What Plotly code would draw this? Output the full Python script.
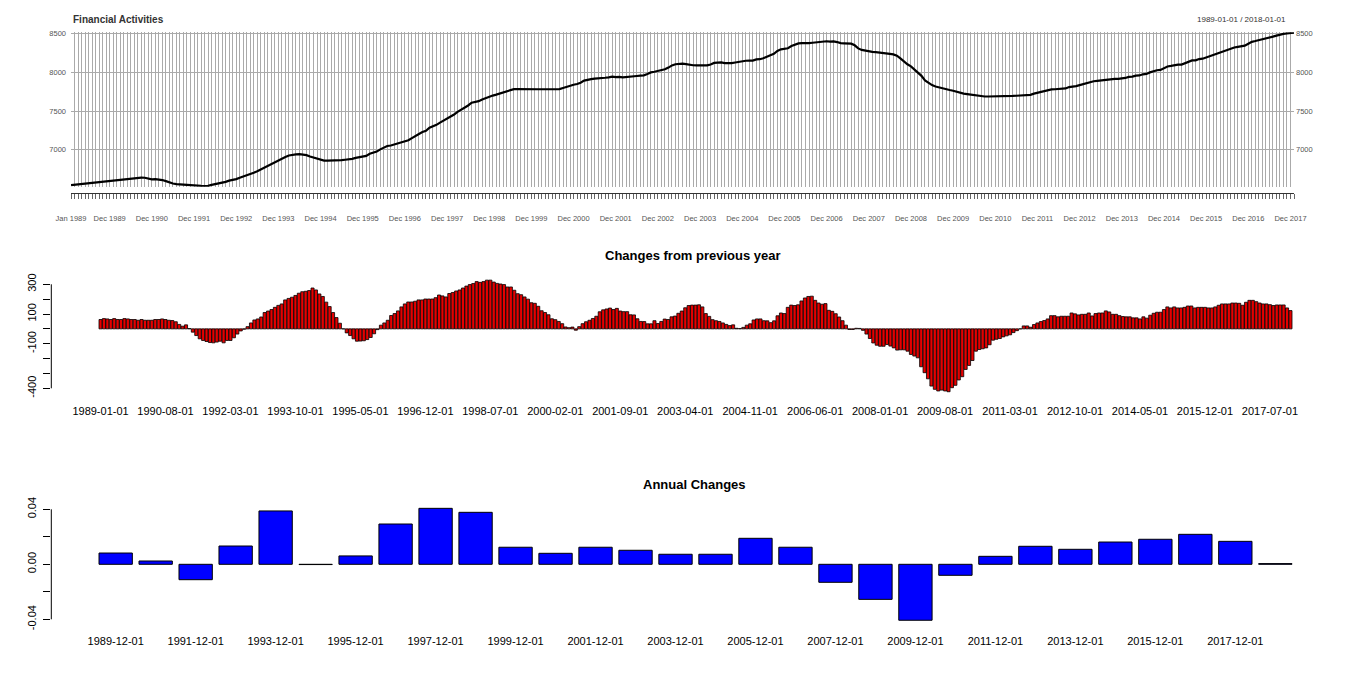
import pandas as pd
import plotly.graph_objects as go

# ---------------- data ----------------
months = [d.strftime("%Y-%m-%d") for d in pd.date_range("1989-01-01", "2018-01-01", freq="MS")]

levels = [
    6543, 6548, 6553, 6558, 6563, 6567, 6572, 6578, 6583, 6587, 6591, 6595,
    6605, 6610, 6614, 6618, 6622, 6627, 6632, 6637, 6640, 6638, 6630, 6618,
    6620, 6615, 6608, 6594, 6576, 6563, 6556, 6552, 6549, 6546, 6543, 6540,
    6527, 6532, 6530, 6532, 6545, 6555, 6560, 6568, 6585, 6600, 6608, 6620,
    6638, 6652, 6665, 6683, 6703, 6722, 6745, 6770, 6795, 6822, 6845, 6865,
    6885, 6905, 6925, 6935, 6940, 6942, 6938, 6930, 6912, 6898, 6880, 6868,
    6860, 6860, 6860, 6857, 6860, 6865, 6870, 6875, 6882, 6895, 6905, 6910,
    6920, 6948, 6962, 6976, 7005, 7030, 7048, 7055, 7068, 7088, 7100, 7112,
    7122, 7150, 7172, 7203, 7228, 7245, 7285, 7300, 7322, 7350, 7375, 7398,
    7420, 7455, 7490, 7515, 7545, 7572, 7608, 7615, 7628, 7650, 7670, 7680,
    7700, 7712, 7725, 7742, 7757, 7770, 7784, 7785, 7783, 7782, 7784, 7785,
    7782, 7782, 7782, 7783, 7783, 7783, 7784, 7784, 7798, 7815, 7828, 7840,
    7850, 7866, 7893, 7905, 7912, 7918, 7920, 7928, 7930, 7936, 7944, 7938,
    7942, 7936, 7942, 7950, 7948, 7953, 7958, 7962, 7980, 8000, 8008, 8020,
    8028, 8040, 8062, 8090, 8105, 8112, 8112, 8107, 8097, 8092, 8090, 8088,
    8083, 8090, 8102, 8122, 8125, 8128, 8120, 8117, 8120, 8128, 8138, 8148,
    8150, 8152, 8152, 8168, 8170, 8182, 8205, 8222, 8240, 8278, 8298, 8305,
    8312, 8340, 8362, 8375, 8378, 8375, 8378, 8383, 8390, 8395, 8398, 8402,
    8398, 8400, 8392, 8378, 8375, 8373, 8371, 8350, 8310, 8290, 8280, 8272,
    8265, 8262, 8258, 8254, 8248, 8240, 8232, 8215, 8180, 8140, 8105, 8078,
    8040, 8000, 7955, 7895, 7860, 7835, 7818, 7805, 7790, 7780, 7772, 7762,
    7748, 7735, 7725, 7718, 7712, 7700, 7695, 7690, 7688, 7688, 7688, 7688,
    7690, 7690, 7690, 7692, 7695, 7698, 7700, 7700, 7700, 7710, 7725, 7738,
    7748, 7760, 7775, 7780, 7782, 7785, 7788, 7792, 7810, 7815, 7822, 7835,
    7848, 7865, 7870, 7885, 7890, 7895, 7905, 7908, 7910, 7915, 7915, 7920,
    7928, 7942, 7945, 7958, 7960, 7975, 7980, 8000, 8015, 8027, 8032, 8050,
    8076, 8083, 8093, 8099, 8101, 8120, 8134, 8154, 8156, 8172, 8177, 8195,
    8215, 8224, 8240, 8258, 8270, 8288, 8302, 8322, 8330, 8340, 8345, 8370,
    8395, 8405, 8415, 8425, 8435, 8452, 8462, 8475, 8488, 8498, 8504, 8508,
    8512,
]

yoy_changes = [
    63, 69, 67, 63, 69, 63, 63, 69, 67, 63, 63, 58,
    63, 58, 58, 58, 63, 63, 67, 63, 58, 56, 48, 30,
    18, 27, 2, -22, -45, -67, -78, -85, -92, -94, -89, -83,
    -94, -78, -78, -60, -35, -14, -2, 15, 40, 60, 67, 80,
    110, 120, 130, 145, 158, 168, 195, 205, 213, 225, 240, 250,
    253, 258, 275, 262, 235, 218, 180, 150, 110, 76, 38, 0,
    -27, -45, -67, -83, -82, -80, -72, -58, -33, -5, 25, 40,
    58, 90, 103, 121, 148, 168, 181, 181, 186, 195, 195, 201,
    201, 201, 210, 228, 222, 215, 238, 245, 255, 262, 275, 288,
    298, 305, 318, 313, 318, 328, 328, 315, 306, 302, 298, 282,
    282, 260, 237, 230, 215, 200, 176, 172, 152, 122, 110, 95,
    68, 62, 50, 35, 13, 8, 12, -9, 15, 35, 48, 58,
    70, 85, 115, 128, 134, 140, 130, 138, 120, 116, 116, 95,
    94, 68, 50, 49, 34, 34, 55, 36, 50, 66, 63, 81,
    86, 105, 120, 142, 157, 160, 160, 162, 148, 103, 84, 62,
    55, 50, 40, 30, 22, 27, 4, 2, 10, 25, 34, 60,
    67, 67, 55, 54, 42, 54, 88, 107, 103, 145, 160, 157,
    162, 188, 208, 218, 220, 192, 174, 166, 170, 125, 118, 102,
    80, 55, 25, -4, -4, 4, 3, -10, -35, -65, -95, -110,
    -117, -117, -105, -116, -128, -143, -141, -141, -150, -172, -183, -195,
    -255, -295, -336, -385, -407, -418, -412, -418, -423, -396, -380, -344,
    -322, -273, -246, -213, -150, -139, -134, -128, -107, -76, -70, -65,
    -54, -47, -40, -25, -12, 0, 20, 20, 11, 29, 40, 49,
    56, 67, 89, 89, 81, 85, 85, 85, 107, 101, 94, 98,
    98, 107, 87, 103, 107, 107, 121, 114, 98, 98, 89, 83,
    81, 81, 74, 74, 67, 81, 72, 92, 105, 112, 112, 130,
    148, 141, 148, 141, 141, 145, 154, 154, 141, 145, 145, 145,
    141, 141, 148, 159, 168, 168, 168, 174, 174, 172, 159, 179,
    192, 192, 183, 174, 168, 168, 163, 157, 161, 161, 161, 141,
    123,
]

annual_dates = [f"{y}-12-01" for y in range(1989, 2019)]
annual_changes = [
    0.0082, 0.0024, -0.0112, 0.0133, 0.0388, -0.0002, 0.0061, 0.0293, 0.0407, 0.0378,
    0.0124, 0.0080, 0.0124, 0.0102, 0.0073, 0.0073, 0.0189, 0.0124, -0.0131, -0.0255,
    -0.0407, -0.0080, 0.0058, 0.0131, 0.0109, 0.0162, 0.0182, 0.0218, 0.0167, 0.0005,
]

top_tick_text = ["Jan 1989"] + [f"Dec {y}" for y in range(1989, 2018)]
top_tick_pos = [0] + [11 + 12 * k for k in range(29)]
top_yticks = [7000, 7500, 8000, 8500]
mid_yticks = [-400, -300, -200, -100, 0, 100, 200, 300]
mid_yticktext = ["-400", "", "", "-100", "", "100", "", "300"]
bot_yticks = [-0.04, -0.02, 0.0, 0.02, 0.04]
bot_yticktext = ["-0.04", "", "0.00", "", "0.04"]

# ---------------- layout helpers ----------------
W, H = 1366, 685
def px(p):
    return p / W
def py(p):
    return 1 - p / H

FONT = "Liberation Sans, Arial, sans-serif"
idx = list(range(len(levels)))
tick_text_all = ["" for _ in idx]
for p, t in zip(top_tick_pos, top_tick_text):
    tick_text_all[p] = t

fig = go.Figure()
fig.add_trace(go.Scatter(x=idx, y=levels, mode="lines",
                         line=dict(color="black", width=2.2),
                         xaxis="x", yaxis="y", showlegend=False, hoverinfo="skip"))
fig.add_trace(go.Scatter(x=idx, y=levels, mode="lines", opacity=0,
                         line=dict(color="black", width=0.1),
                         xaxis="x2", yaxis="y2", showlegend=False, hoverinfo="skip"))
fig.add_trace(go.Bar(x=months, y=yoy_changes, width=0.9,
                     marker=dict(color="#e60000", line=dict(color="black", width=0.8)),
                     xaxis="x3", yaxis="y3", showlegend=False))
fig.add_trace(go.Bar(x=annual_dates, y=annual_changes, width=1 / 1.2,
                     marker=dict(color="#0000ff", line=dict(color="black", width=1)),
                     xaxis="x4", yaxis="y4", showlegend=False))

grid = "#aaaaaa"
lab = "#555555"
fig.update_layout(
    width=W, height=H, margin=dict(l=0, r=0, t=0, b=0, autoexpand=False),
    paper_bgcolor="white", plot_bgcolor="white",
    font=dict(family=FONT, color="black"),
    xaxis=dict(domain=[px(71), px(1294)], range=[0, len(levels) - 1], anchor="y",
               tickmode="array", tickvals=idx, showticklabels=False,
               showgrid=True, gridcolor=grid, gridwidth=1, zeroline=False,
               showline=False, ticks=""),
    yaxis=dict(domain=[py(186.7), py(32.3)], range=[6522, 8518], anchor="x",
               tickmode="array", tickvals=top_yticks, showgrid=True, gridcolor=grid,
               zeroline=False, showline=False, ticks="",
               tickfont=dict(size=7.5, color=lab), ticklabelstandoff=4),
    xaxis2=dict(overlaying="x", anchor="free", position=py(192.7),
                range=[0, len(levels) - 1], tickmode="array", tickvals=idx,
                ticktext=tick_text_all, ticks="outside", ticklen=5, tickcolor="#666666",
                showline=True, linecolor="#333333", linewidth=1, showgrid=False,
                zeroline=False, tickfont=dict(size=7.5, color=lab),
                ticklabelstandoff=13, tickangle=0),
    yaxis2=dict(overlaying="y", side="right", anchor="x", range=[6522, 8518],
                tickmode="array", tickvals=top_yticks, showgrid=False, zeroline=False,
                showline=False, ticks="", tickfont=dict(size=7.5, color=lab),
                ticklabelstandoff=1),
    xaxis3=dict(domain=[px(51.3), px(1339.7)], anchor="y3", type="category",
                range=[-14.4, len(months) - 1 + 14.4], tickmode="array",
                tickvals=months[::19], ticktext=months[::19], ticks="",
                showline=False, showgrid=False, zeroline=False,
                tickfont=dict(size=11, color="black"), ticklabelstandoff=6, tickangle=0),
    yaxis3=dict(domain=[py(396.8), py(275.5)], anchor="x3", range=[-457.2, 359.2],
                tickmode="array", tickvals=mid_yticks, ticktext=mid_yticktext,
                ticks="outside", ticklen=7, tickcolor="black", showline=False,
                showgrid=False, zeroline=False, tickangle=-90,
                tickfont=dict(size=11, color="black"), ticklabelstandoff=3),
    xaxis4=dict(domain=[px(51.3), px(1339.7)], anchor="y4", type="category",
                range=[-1.61, len(annual_dates) - 1 + 1.61], tickmode="array",
                tickvals=annual_dates[::2], ticktext=annual_dates[::2], ticks="",
                showline=False, showgrid=False, zeroline=False,
                tickfont=dict(size=11, color="black"), ticklabelstandoff=8, tickangle=0),
    yaxis4=dict(domain=[py(624.8), py(503.8)], anchor="x4", range=[-0.044, 0.044],
                tickmode="array", tickvals=bot_yticks, ticktext=bot_yticktext,
                ticks="outside", ticklen=7, tickcolor="black", showline=False,
                showgrid=False, zeroline=False, tickangle=-90,
                tickfont=dict(size=11, color="black"), ticklabelstandoff=3),
    shapes=[
        dict(type="line", xref="paper", yref="y3", x0=px(51.3), x1=px(51.3),
             y0=mid_yticks[0], y1=mid_yticks[-1], line=dict(color="black", width=1)),
        dict(type="line", xref="paper", yref="y4", x0=px(51.3), x1=px(51.3),
             y0=bot_yticks[0], y1=bot_yticks[-1], line=dict(color="black", width=1)),
    ],
    annotations=[
        dict(text="<b>Financial Activities</b>", xref="paper", yref="paper",
             x=px(71), y=py(19.5), xanchor="left", yanchor="middle", showarrow=False,
             font=dict(size=10, color="#333333", family=FONT)),
        dict(text=f"{months[0]} / {months[-1]}", xref="paper", yref="paper",
             x=px(1288), y=py(20), xanchor="right", yanchor="middle", showarrow=False,
             font=dict(size=8, color="#333333", family=FONT)),
        dict(text="<b>Changes from previous year</b>", xref="paper", yref="paper",
             x=px(693), y=py(255.7), xanchor="center", yanchor="middle", showarrow=False,
             font=dict(size=13, color="black", family=FONT)),
        dict(text="<b>Annual Changes</b>", xref="paper", yref="paper",
             x=px(695), y=py(484.3), xanchor="center", yanchor="middle", showarrow=False,
             font=dict(size=13, color="black", family=FONT)),
    ],
)

fig.write_html("out.html", config={"displayModeBar": False},
               post_script="document.body.style.margin='0';document.body.style.overflow='hidden';")
